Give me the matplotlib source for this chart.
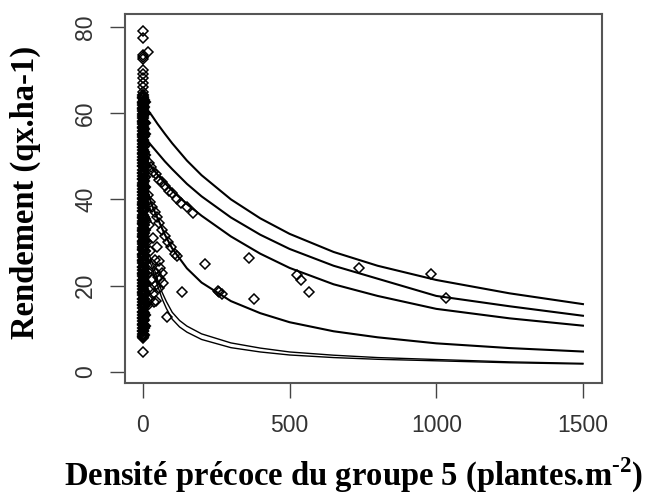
import matplotlib
matplotlib.use("Agg")
import matplotlib.pyplot as plt

plt.rcParams['mathtext.fontset'] = 'custom'
plt.rcParams['mathtext.rm'] = 'Liberation Serif:bold'
plt.rcParams['mathtext.bf'] = 'Liberation Serif:bold'

# ---------------- data ----------------
# dense column of observations at (near) zero density
col_a_x = [0] * 76
col_a_y = [64.2, 63.4, 62.7, 61.9, 61.2, 60.4, 59.7, 58.9, 58.2, 57.4, 56.7, 55.9,
           55.2, 54.4, 53.7, 52.9, 52.2, 51.4, 50.7, 49.9, 49.2, 48.4, 47.7, 46.9,
           46.2, 45.4, 44.7, 43.9, 43.2, 42.4, 41.7, 40.9, 40.2, 39.4, 38.7, 37.9,
           37.2, 36.4, 35.7, 34.9, 34.2, 33.4, 32.7, 31.9, 31.2, 30.4, 29.7, 28.9,
           28.2, 27.4, 26.7, 25.9, 25.2, 24.4, 23.7, 22.9, 22.2, 21.4, 20.7, 19.9,
           19.2, 18.4, 17.7, 16.9, 16.2, 15.4, 14.7, 13.9, 13.2, 12.4, 11.7, 10.9,
           10.2, 9.4, 8.7, 8.0]
col_b_x = [5] * 33
col_b_y = [63.0, 61.5, 59.8, 58.0, 56.3, 54.6, 53.0, 51.1, 49.5, 47.8, 46.0, 44.3,
           42.6, 41.0, 39.2, 37.5, 35.8, 34.1, 32.3, 30.6, 29.0, 27.1, 25.5, 23.8,
           22.1, 20.3, 18.7, 17.0, 15.2, 13.6, 11.9, 10.2, 8.6]
col_c_x = [2] * 39
col_c_y = [63.8, 62.3, 60.9, 59.4, 57.9, 56.5, 55.0, 53.5, 52.1, 50.6, 49.1, 47.7,
           46.2, 44.7, 43.3, 41.8, 40.3, 38.9, 37.4, 35.9, 34.5, 33.0, 31.5, 30.1,
           28.6, 27.1, 25.7, 24.2, 22.7, 21.3, 19.8, 18.3, 16.9, 15.4, 13.9, 12.5,
           11.0, 9.5, 8.3]
col_d_x = [8] * 22
col_d_y = [62.5, 60.0, 57.6, 55.1, 52.6, 50.2, 47.7, 45.2, 42.8, 40.3, 37.8, 35.4,
           32.9, 30.4, 28.0, 25.5, 23.0, 20.6, 18.1, 15.6, 13.2, 10.7]

# other observations
obs_x = [0, 0, 0, 2, 0, 18, 0, 0, 0, 0, 0, 0, 0, 0,
         25, 35, 20, 40, 45, 55, 60, 50, 30, 40, 55, 35, 25, 45, 60, 20, 30, 15, 12,
         48, 65, 28, 38, 18, 70,
         81, 134, 210,
         20, 28, 36, 45, 55, 65, 75, 88, 100, 115, 130, 150, 170,
         18, 25, 32, 40, 48, 56, 65, 75, 85, 95, 110, 116,
         255, 260, 268,
         361, 378, 525, 539, 567, 737, 983, 1032]
obs_y = [79.1, 77.4, 73.4, 73.0, 72.6, 74.1, 70.0, 69.0, 68.1, 67.0, 66.0, 65.0, 7.8, 4.6,
         28.0, 31.0, 34.0, 26.0, 23.0, 25.6, 24.0, 22.0, 21.5, 20.0, 19.5, 18.0, 17.0,
         16.5, 21.5, 23.0, 25.0, 30.0, 35.0,
         29.0, 23.0, 19.2, 16.2, 15.5, 20.5,
         12.7, 18.4, 25.0,
         48.5, 47.6, 46.4, 45.9, 44.6, 44.0, 43.0, 42.0, 41.5, 40.0, 39.2, 38.2, 36.9,
         41.0, 39.5, 38.2, 37.0, 35.8, 34.5, 33.0, 31.5, 30.2, 29.0, 27.4, 26.8,
         18.8, 18.5, 18.0,
         26.4, 16.9, 22.4, 21.3, 18.5, 24.1, 22.6, 17.1]

# fitted curves
curve_x = [15, 30, 50, 75, 100, 150, 200, 300, 400, 500, 650, 800, 1000, 1250, 1500]
curve1_y = [60.8, 59.5, 57.5, 55.2, 53.0, 49.0, 45.6, 40.0, 35.6, 32.0, 27.8, 24.6, 21.3, 18.2, 15.7]
curve2_y = [53.6, 52.4, 50.8, 48.8, 47.0, 43.6, 40.7, 35.8, 31.8, 28.5, 24.6, 21.6, 17.6, 15.2, 13.0]
curve3_y = [49.0, 47.4, 45.7, 43.8, 42.0, 38.9, 36.2, 31.4, 27.4, 24.1, 20.3, 17.6, 14.6, 12.4, 10.7]
curve4_y = [42.0, 38.8, 35.6, 31.8, 28.6, 24.0, 20.7, 16.4, 13.6, 11.5, 9.4, 8.0, 6.6, 5.5, 4.7]

curve5_x = [15, 30, 50, 65, 80, 100, 125, 150, 200, 300, 400, 500, 650, 800, 1000, 1250, 1500]
curve5a_y = [27.0, 24.5, 20.0, 17.0, 14.7, 12.2, 10.4, 9.2, 7.5, 5.6, 4.6, 3.9, 3.3, 2.9, 2.55, 2.1, 1.8]
curve5b_y = [28.0, 25.7, 21.4, 18.5, 16.3, 13.8, 11.9, 10.6, 8.8, 6.7, 5.5, 4.6, 3.85, 3.3, 2.85, 2.3, 1.95]

x_ticks = [0, 500, 1000, 1500]
y_ticks = [0, 20, 40, 60, 80]

# ---------------- figure ----------------
fig = plt.figure(figsize=(6.45, 4.95), dpi=100)
ax = fig.add_axes([125 / 645, 1 - 383 / 495, (602 - 125) / 645, (383 - 14) / 495])

mk = dict(marker='D', markersize=5.4, markerfacecolor='none', markeredgecolor='black',
          linestyle='none')
for xs, ys in ((col_a_x, col_a_y), (col_b_x, col_b_y), (col_c_x, col_c_y),
               (col_d_x, col_d_y)):
    ax.plot(xs, ys, markeredgewidth=1.5, **mk)
ax.plot(obs_x, obs_y, markeredgewidth=1.1, **mk)

lw = 1.5
for cy in (curve1_y, curve2_y, curve3_y, curve4_y):
    ax.plot(curve_x, cy, color='black', lw=lw)
ax.plot(curve5_x, curve5a_y, color='black', lw=1.0)
ax.plot(curve5_x, curve5b_y, color='black', lw=1.0)

ax.set_xlim(-61, 1565)
ax.set_ylim(-2.6, 83.0)
ax.set_xticks(x_ticks)
ax.set_yticks(y_ticks)
ax.set_xticklabels([str(v) for v in x_ticks], fontsize=16.5, color='#333333',
                   family='Liberation Sans')
ax.set_yticklabels([str(v) for v in y_ticks], fontsize=16.5, color='#333333',
                   family='Liberation Sans', rotation=90, va='center')
ax.tick_params(axis='both', direction='out', length=11, width=1.0, color='#444444')
ax.tick_params(axis='x', pad=11)
ax.tick_params(axis='y', pad=9)
for s in ax.spines.values():
    s.set_linewidth(1.5)
    s.set_color('#555555')

fig.text(25 / 645, 1 - 192 / 495, 'Rendement (qx.ha-1)', rotation=90, ha='center', va='center',
         family='Liberation Serif', weight='bold', fontsize=23.5)
fig.text(353 / 645, 1 - 486 / 495, 'Densité précoce du groupe 5 (plantes.m$^{\\mathbf{\u2010}\\mathbf{2}}$)',
         ha='center', va='baseline', family='Liberation Serif', weight='bold', fontsize=23.5)

fig.savefig('out.png', dpi=100, facecolor='white')
